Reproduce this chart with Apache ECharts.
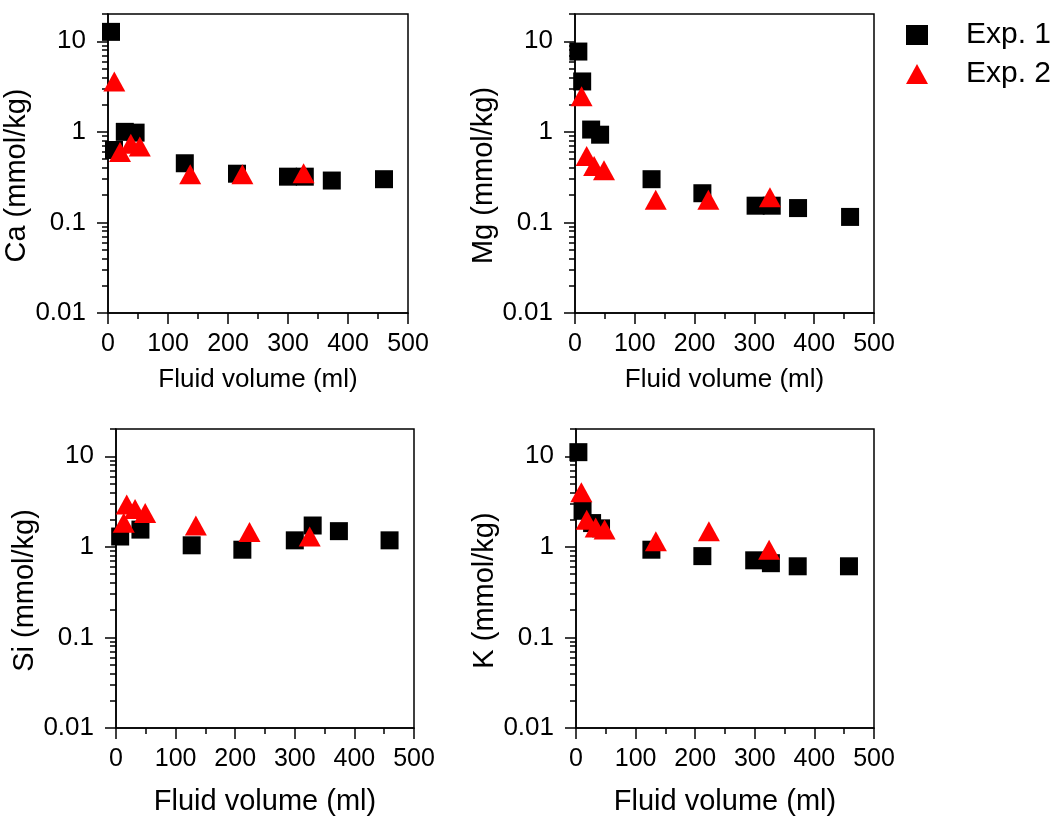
<!DOCTYPE html>
<html>
<head>
<meta charset="utf-8">
<script src="https://cdn.jsdelivr.net/npm/echarts@6/dist/echarts.min.js"></script>
<style>
  html, body { margin: 0; background: #fff; }
  #charts { width: 1060px; height: 819px; }
</style>
</head>
<body>
<div id="charts"></div>
<script>
// [fluid volume (ml), concentration (mmol/kg)]
const caExp1 = [[5, 12.7], [10, 0.63], [28, 1.0], [46, 0.98], [128, 0.45], [215, 0.345], [300, 0.32], [328, 0.32], [373, 0.29], [460, 0.30]]
const caExp2 = [[10.5, 3.6], [20, 0.6], [38, 0.74], [53, 0.69], [137, 0.34], [224, 0.34], [326, 0.35]]
const mgExp1 = [[5.6, 7.7], [12, 3.6], [27, 1.06], [42, 0.93], [128, 0.30], [213, 0.21], [302, 0.153], [329, 0.153], [373, 0.144], [460, 0.115]]
const mgExp2 = [[11, 2.47], [19.5, 0.54], [32, 0.42], [48.5, 0.376], [135, 0.178], [223, 0.178], [326, 0.19]]
const siExp1 = [[7, 1.3], [41, 1.55], [127, 1.04], [212, 0.93], [300, 1.18], [330, 1.72], [374, 1.49], [459, 1.18]]
const siExp2 = [[13, 1.85], [18, 2.94], [32, 2.61], [49, 2.36], [134, 1.72], [224, 1.46], [325, 1.3]]
const kExp1 = [[4, 11.1], [11, 2.5], [27, 1.83], [42, 1.6], [126.5, 0.93], [212, 0.79], [299, 0.71], [327, 0.66], [372, 0.61], [458, 0.61]]
const kExp2 = [[9, 4.0], [18, 1.99], [33, 1.63], [48, 1.55], [134, 1.15], [223, 1.49], [324, 0.93]]

const yNames = ['Ca (mmol/kg)', 'Mg (mmol/kg)', 'Si (mmol/kg)', 'K (mmol/kg)']
const yMajorTicks = [0.01, 0.1, 1, 10]
const yMinorTicks = [0.02, 0.03, 0.04, 0.05, 0.06, 0.07, 0.08, 0.09,
  0.2, 0.3, 0.4, 0.5, 0.6, 0.7, 0.8, 0.9,
  2, 3, 4, 5, 6, 7, 8, 9, 20]

const font = 'Liberation Sans, Arial, sans-serif'
const grids = [
  {left: 108, top: 14, width: 300, height: 299},
  {left: 575, top: 14, width: 299, height: 299},
  {left: 116, top: 429, width: 298, height: 299},
  {left: 576, top: 429, width: 298, height: 299}
]
const exp1Data = [caExp1, mgExp1, siExp1, kExp1]
const exp2Data = [caExp2, mgExp2, siExp2, kExp2]
const lineStyle = {color: '#000', width: 1.5}

const xAxis = grids.map((g, i) => ({
  type: 'value', gridIndex: i, min: 0, max: 500, interval: 100,
  name: 'Fluid volume (ml)', nameLocation: 'middle', nameGap: i < 2 ? 54 : 59,
  nameTextStyle: {fontFamily: font, fontSize: i < 2 ? 26 : 29, color: '#000'},
  axisLine: {show: true, onZero: false, lineStyle},
  axisTick: {show: true, length: 11, lineStyle},
  minorTick: {show: true, splitNumber: 2, length: 6, lineStyle},
  axisLabel: {fontFamily: font, fontSize: 25, color: '#000', margin: 19},
  splitLine: {show: false}
}))

const yMain = grids.map((g, i) => ({
  type: 'log', gridIndex: i, min: 0.01, max: 20, logBase: 10,
  name: yNames[i], nameLocation: 'middle', nameGap: [64, 64, 71, 66][i],
  nameTextStyle: {fontFamily: font, fontSize: 29, color: '#000', padding: [0, 24, 0, 0]},
  axisLine: {show: true, onZero: false, lineStyle},
  axisTick: {show: true, length: 11, lineStyle, customValues: yMajorTicks},
  axisLabel: {fontFamily: font, fontSize: 26, color: '#000', margin: 22, customValues: yMajorTicks},
  splitLine: {show: false}
}))

// a hidden twin grid on top of each panel carries the short minor ticks
const xHidden = grids.map((g, i) => ({
  type: 'value', gridIndex: i + 4, min: 0, max: 500, show: false
}))
const yMinor = grids.map((g, i) => ({
  type: 'log', gridIndex: i + 4, min: 0.01, max: 20, logBase: 10,
  axisLine: {show: false},
  axisTick: {show: true, length: 6, lineStyle, customValues: yMinorTicks},
  axisLabel: {show: false},
  splitLine: {show: false}
}))

const series = []
grids.forEach((g, i) => {
  series.push({
    name: 'Exp. 1', type: 'scatter', xAxisIndex: i, yAxisIndex: i,
    symbol: 'rect', symbolSize: 18, clip: false,
    itemStyle: {color: '#000', opacity: 1},
    data: exp1Data[i]
  })
})
grids.forEach((g, i) => {
  series.push({
    name: 'Exp. 2', type: 'scatter', xAxisIndex: i, yAxisIndex: i,
    symbol: 'triangle', symbolSize: [22, 20], clip: false,
    itemStyle: {color: '#ff0000', opacity: 1},
    data: exp2Data[i]
  })
})

const myCharts = echarts.init(document.getElementById('charts'))
myCharts.setOption({
  animation: false,
  backgroundColor: '#fff',
  legend: {
    data: ['Exp. 1', 'Exp. 2'], orient: 'vertical',
    left: 906, top: 20, padding: 0, itemGap: 9,
    itemWidth: 22, itemHeight: 20,
    textStyle: {fontFamily: font, fontSize: 30, color: '#000', lineHeight: 30, padding: [0, 0, 0, 33]}
  },
  grid: grids.map(g => Object.assign({show: true, borderColor: '#000', borderWidth: 1.5, backgroundColor: 'transparent'}, g))
    .concat(grids.map(g => Object.assign({show: false}, g))),
  xAxis: xAxis.concat(xHidden),
  yAxis: yMain.concat(yMinor),
  series
})
</script>
</body>
</html>
